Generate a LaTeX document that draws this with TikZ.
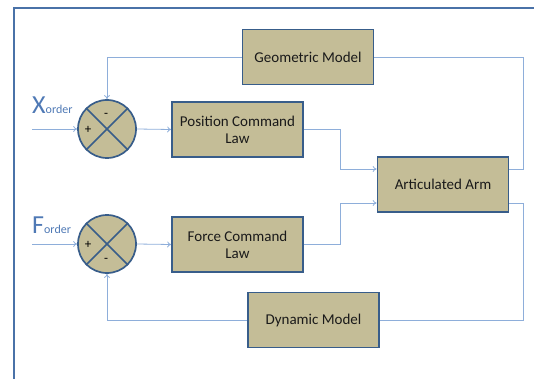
\documentclass[tikz,border=0pt]{standalone}
\usepackage{fontspec}
\setmainfont{Carlito}
\usetikzlibrary{arrows.meta}
\definecolor{boxfill}{HTML}{C4BD97}
\definecolor{boxline}{HTML}{385D8A}
\definecolor{wire}{HTML}{8EAEDA}
\definecolor{labelblue}{HTML}{4F79B5}
\definecolor{framecol}{HTML}{4A72A8}
\definecolor{textcol}{HTML}{1A1A1A}

\begin{document}
\begin{tikzpicture}[x=1pt,y=-1pt,
    block/.style={draw=boxline,line width=1.7pt,fill=boxfill,minimum width=131pt,
      minimum height=55pt,align=center,text=textcol,font=\fontsize{15}{17}\selectfont},
    summer/.style={circle,draw=boxline,line width=1.7pt,fill=boxfill,minimum size=58pt,inner sep=0pt},
    link/.style={draw=wire,line width=0.8pt},
    tip/.style={-{To[length=4pt,width=6pt]}},
    sign/.style={font=\fontsize{13}{13}\selectfont,inner sep=0pt}]
    \useasboundingbox (0,0) rectangle (534,379);

    % outer frame
    \draw[framecol,line width=2.4pt] (14,385) -- (14,8) -- (540,8);

    % blocks
    \node[block] (geo) at (308,57) {Geometric Model};
    \node[block] (pos) at (237.5,129.5) {Position Command\\Law};
    \node[block] (force) at (237.5,244.5) {Force Command\\Law};
    \node[block] (arm) at (443,184.5) {Articulated Arm};
    \node[block] (dyn) at (313.5,320) {Dynamic Model};

    % summing junctions
    \node[summer] (sumx) at (107,129) {};
    \draw[boxline,line width=1.7pt] (sumx.north west) -- (sumx.south east);
    \draw[boxline,line width=1.7pt] (sumx.north east) -- (sumx.south west);
    \node[sign] (sumxm) at (106,115) {-};
    \node[sign] (sumxp) at (88,130) {+};

    \node[summer] (sumf) at (107,244) {};
    \draw[boxline,line width=1.7pt] (sumf.north west) -- (sumf.south east);
    \draw[boxline,line width=1.7pt] (sumf.north east) -- (sumf.south west);
    \node[sign] (sumfp) at (88,245) {+};
    \node[sign] (sumfm) at (106,260) {-};

    % inputs
    \node[anchor=base west,inner sep=0pt,text=labelblue] (xlabel) at (32,114)
      {\fontsize{26}{26}\selectfont X\fontsize{12}{12}\selectfont order};
    \node[anchor=base west,inner sep=0pt,text=labelblue] (flabel) at (32,233)
      {\fontsize{26}{26}\selectfont F\fontsize{12}{12}\selectfont order};
    \coordinate (xin) at (32,129);
    \coordinate (fin) at (32,244);

    % connectors
    \draw[link,tip] (xin) -- (sumx.west);
    \draw[link,tip] (fin) -- (sumf.west);
    \draw[link,tip] (sumx.east) -- (pos.west);
    \draw[link,tip] (sumf.east) -- (force.west);
    \draw[link,tip] (pos.east) -- ++(37,0) |- ([yshift=15.5pt]arm.west);
    \draw[link,tip] (force.east) -- ++(37,0) |- ([yshift=-18.5pt]arm.west);
    \draw[link] ([yshift=15.5pt]arm.east) -- ++(14,0) |- (geo.east);
    \draw[link,tip] (geo.west) -| (sumx.north);
    \draw[link] ([yshift=-18.5pt]arm.east) -- ++(14,0) |- (dyn.east);
    \draw[link,tip] (dyn.west) -| (sumf.south);
\end{tikzpicture}
\end{document}
